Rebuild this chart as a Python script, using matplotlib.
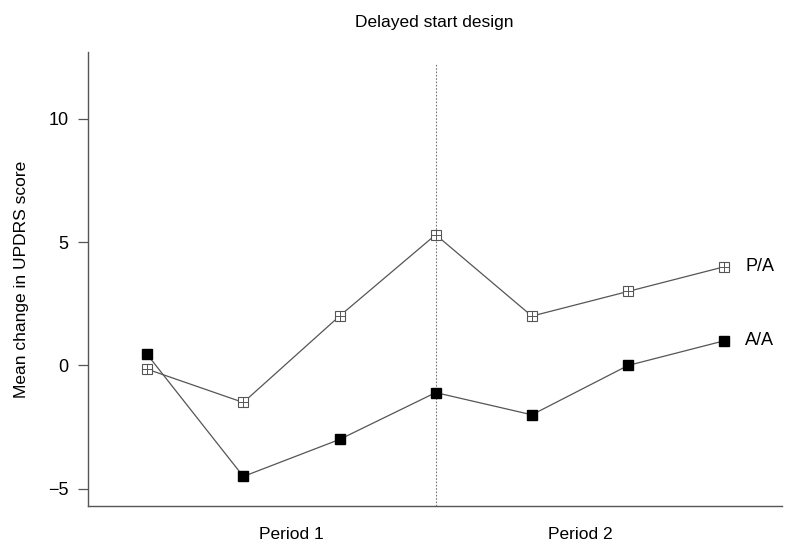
import matplotlib
matplotlib.use("Agg")
import matplotlib.pyplot as plt

plt.rcParams['font.family'] = ['Liberation Sans', 'DejaVu Sans']

# visits, mean change in UPDRS score per group
visits = [0, 1, 2, 3, 4, 5, 6]
pa_change = [-0.15, -1.5, 2.0, 5.3, 2.0, 3.0, 4.0]
aa_change = [0.45, -4.5, -3.0, -1.1, -2.0, 0.0, 1.0]
switch_visit = 3
yticks = [-5, 0, 5, 10]
periods = ["Period 1", "Period 2"]
period_centres = [1.5, 4.5]

line_col = "#555555"
fs = 12.5

fig = plt.figure(figsize=(8.07, 5.43), dpi=100)
ax = fig.add_axes([0.109, 0.068, 0.860, 0.836])

# placebo then active: open square with a cross inside
ax.plot(visits, pa_change, color=line_col, lw=0.9, marker="s", ms=6.5,
        mfc="white", mec=line_col, mew=0.8, zorder=3)
ax.plot(visits, pa_change, ls="none", marker="+", ms=6.5, mec=line_col,
        mew=0.7, zorder=4)
# active throughout: filled square
ax.plot(visits, aa_change, color=line_col, lw=0.9, marker="s", ms=6.5,
        mfc="black", mec="black", zorder=3)

ax.text(6.22, pa_change[-1], "P/A", fontsize=fs + 0.5, va="center", ha="left")
ax.text(6.22, aa_change[-1], "A/A", fontsize=fs + 0.5, va="center", ha="left")

# start of the second period
ax.vlines(switch_visit, -5.7, 12.25, colors="#777777", lw=0.8,
          linestyles=(0, (1.5, 1.5)), zorder=1)

ax.set_xlim(-0.615, 6.6)
ax.set_ylim(-5.7, 12.7)
ax.set_yticks(yticks)
ax.set_yticklabels(["\u22125", "0", "5", "10"], fontsize=fs + 0.5)
ax.tick_params(axis="y", length=7, width=0.9, color=line_col, pad=7)
ax.set_xticks([])

for s in ["top", "right"]:
    ax.spines[s].set_visible(False)
for s in ["left", "bottom"]:
    ax.spines[s].set_color(line_col)
    ax.spines[s].set_linewidth(1.0)

for lab, xc in zip(periods, period_centres):
    ax.text(xc, -6.85, lab, fontsize=fs, ha="center", va="center")

ax.set_ylabel("Mean change in UPDRS score", fontsize=fs, labelpad=14)
fig.text(0.538, 0.959, "Delayed start design", fontsize=fs, ha="center",
         va="center")

fig.savefig("out.png", dpi=100)
